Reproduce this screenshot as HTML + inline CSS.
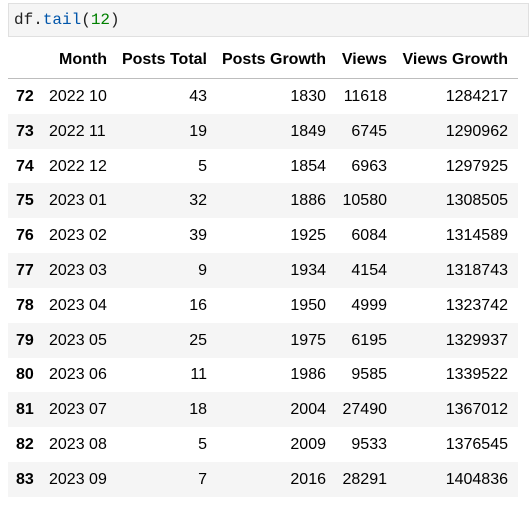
<!DOCTYPE html>
<html><head><meta charset="utf-8"><style>
body{margin:0;width:529px;height:507px;background:#fff;position:relative;overflow:hidden;font-family:"Liberation Sans",sans-serif;font-size:16px;color:#000}
.code{position:absolute;left:8px;top:3px;width:521px;height:34px;background:#f5f5f5;border:1px solid #e0e0e0;box-sizing:border-box}
.code span.t{position:absolute;left:5px;top:7px;font-family:"Liberation Mono",monospace;font-size:16px;color:#212121}
.row{position:absolute;left:8px;width:510px;height:35px}
.row.g{background:#f5f5f5}
.c{position:absolute;top:0;line-height:35px;white-space:nowrap}
.r{text-align:right}
.hdr .c{font-weight:bold}
.line{position:absolute;left:8px;width:510px;top:78px;height:1px;background:#bdbdbd}
</style></head><body>
<div class="code"><span class="t">df.<span style="color:#0055aa">tail</span>(<span style="color:#008000">12</span>)</span></div>
<div class="row hdr" style="top:42px">
<span class="c" style="left:51px">Month</span>
<span class="c r" style="right:311px">Posts Total</span>
<span class="c r" style="right:192px">Posts Growth</span>
<span class="c r" style="right:131px">Views</span>
<span class="c r" style="right:10px">Views Growth</span>
</div>
<div class="line"></div>
<div id="body"></div>
<script>
const idx=[72,73,74,75,76,77,78,79,80,81,82,83];
const months=["2022 10","2022 11","2022 12","2023 01","2023 02","2023 03","2023 04","2023 05","2023 06","2023 07","2023 08","2023 09"];
const postsTotal=[43,19,5,32,39,9,16,25,11,18,5,7];
const postsGrowth=[1830,1849,1854,1886,1925,1934,1950,1975,1986,2004,2009,2016];
const views=[11618,6745,6963,10580,6084,4154,4999,6195,9585,27490,9533,28291];
const viewsGrowth=[1284217,1290962,1297925,1308505,1314589,1318743,1323742,1329937,1339522,1367012,1376545,1404836];
const body=document.getElementById('body');
for(let i=0;i<idx.length;i++){
  const r=document.createElement('div');
  r.className='row'+(i%2?' g':'');
  r.style.top=(79+i*34.8)+'px';
  
  
  const cells=[[idx[i],'left:8px;font-weight:bold','row-index'],[months[i],'left:41px','cell-month'],[postsTotal[i],'right:311px','cell-posts-total'],[postsGrowth[i],'right:192px','cell-posts-growth'],[views[i],'right:131px','cell-views'],[viewsGrowth[i],'right:10px','cell-views-growth']];
  for(const c of cells){
    const s=document.createElement('span');
    s.className='c';
    s.style.cssText=c[1];
    s.textContent=c[0];
    
    
    r.appendChild(s);
  }
  body.appendChild(r);
}
</script>
</body></html>
